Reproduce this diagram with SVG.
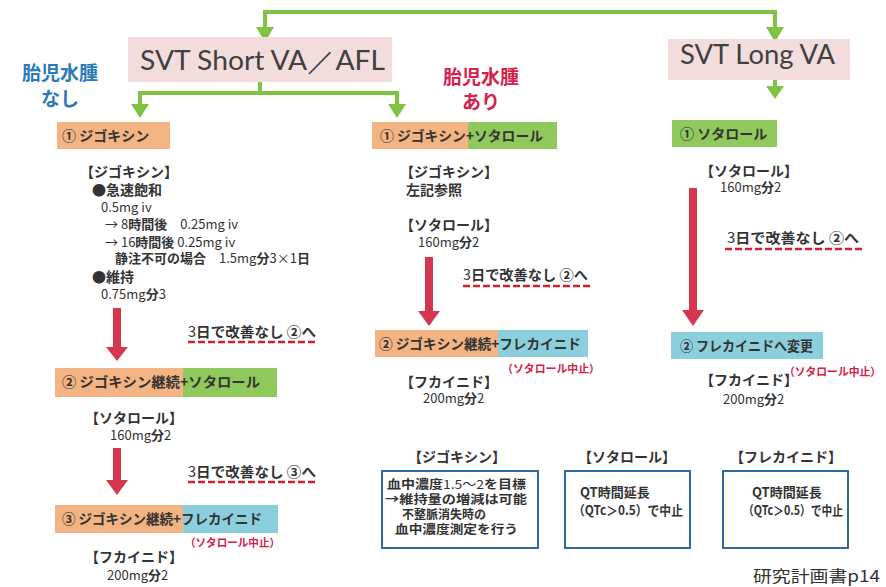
<svg xmlns="http://www.w3.org/2000/svg" width="886" height="587" viewBox="0 0 886 587">
<style>
text{font-family:"Noto Sans CJK JP","Noto Sans",sans-serif;fill:#333;font-weight:700;font-size:13px}
.n{font-weight:400}
.hd{font-family:Lato,"Open Sans",sans-serif;font-weight:400;font-size:26px;fill:#404040}
.lab{font-size:14px}
.ng{font-size:14px}
.nt{font-size:12px}
.blue{fill:#2a79b8;font-size:19px}
.red{fill:#d4204a;font-size:19px}
.stop{fill:#d4204a;font-size:11px}
.pink{fill:#f3dcdc}
.or{fill:#f4b383}
.gr{fill:#8fc95c}
.bl{fill:#8ccfdc}
.box{fill:#fff;stroke:#2d6b9c;stroke-width:2}
.ga{fill:none;stroke:#80c244;stroke-width:4}
.gh{fill:#80c244}
.ra{fill:#d6364f}
.dash{stroke:#d0202f;stroke-width:2.5;stroke-dasharray:7 3;fill:none}
</style>

<g id="connectors">
  <path class="ga" d="M265,28 V12 H775 V28"/>
  <polygon class="gh" points="256,27 274,27 265,42"/>
  <polygon class="gh" points="766,27 784,27 775,42"/>
  <path class="ga" d="M775,80 V87"/>
  <polygon class="gh" points="766,86 784,86 775,99"/>
  <path class="ga" d="M260,82 V93 M140,105 V93 H397 V105"/>
  <polygon class="gh" points="131,104 149,104 140,118"/>
  <polygon class="gh" points="388,104 406,104 397,118"/>
  <rect class="ra" x="113" y="308" width="8" height="40"/>
  <polygon class="ra" points="106,347 128,347 117,361"/>
  <rect class="ra" x="113" y="448" width="8" height="33"/>
  <polygon class="ra" points="106,480 128,480 117,495"/>
  <rect class="ra" x="425" y="257" width="8" height="55"/>
  <polygon class="ra" points="418,311 440,311 429,326"/>
  <rect class="ra" x="689" y="188" width="8" height="123"/>
  <polygon class="ra" points="682,310 704,310 693,326"/>
  <path class="dash" d="M188,342 H318 M188,482 H318 M463,286 H590 M725,249 H862"/>
</g>

<g id="short-va">
  <rect class="pink" x="128" y="37" width="264" height="45"/>
  <text class="hd" x="140" y="70" textLength="245" lengthAdjust="spacingAndGlyphs">SVT Short VA／AFL</text>
</g>
<g id="long-va">
  <rect class="pink" x="668" y="39" width="182" height="41"/>
  <text class="hd" x="680" y="64" textLength="155" lengthAdjust="spacingAndGlyphs">SVT Long VA</text>
</g>
<g id="hydrops-no">
  <text class="blue" x="60" y="80" text-anchor="middle">胎児水腫</text>
  <text class="blue" x="60" y="106" text-anchor="middle">なし</text>
</g>
<g id="hydrops-yes">
  <text class="red" x="481" y="84" text-anchor="middle">胎児水腫</text>
  <text class="red" x="481" y="109" text-anchor="middle">あり</text>
</g>

<g id="L1">
  <rect class="or" x="57" y="122" width="113" height="27"/>
  <text class="lab" x="62" y="141">①  ジゴキシン</text>
</g>
<g id="L1-detail">
  <text class="lab" x="80" y="177">【ジゴキシン】</text>
  <text class="lab" x="92" y="195">●急速飽和</text>
  <text class="n" x="101" y="212">0.5mg iv</text>
  <text x="105" y="229"><tspan class="n">→  8</tspan>時間後<tspan class="n">　0.25mg iv</tspan></text>
  <text x="105" y="247"><tspan class="n">→  16</tspan>時間後<tspan class="n"> 0.25mg iv</tspan></text>
  <text x="115" y="263">静注不可の場合<tspan class="n">　1.5mg</tspan>分<tspan class="n">3×1</tspan>日</text>
  <text class="lab" x="92" y="282">●維持</text>
  <text x="101" y="299"><tspan class="n">0.75mg</tspan>分<tspan class="n">3</tspan></text>
  <text class="ng" x="188" y="337" textLength="128" lengthAdjust="spacingAndGlyphs"><tspan class="n">3</tspan>日で改善なし  ②へ</text>
</g>
<g id="L2">
  <rect class="or" x="55" y="368" width="128" height="29"/>
  <rect class="gr" x="183" y="368" width="94" height="29"/>
  <text class="lab" x="62" y="387" textLength="198" lengthAdjust="spacingAndGlyphs">②  ジゴキシン継続+ソタロール</text>
</g>
<g id="L2-detail">
  <text class="lab" x="85" y="423">【ソタロール】</text>
  <text x="110" y="440"><tspan class="n">160mg</tspan>分<tspan class="n">2</tspan></text>
  <text class="ng" x="188" y="477" textLength="128" lengthAdjust="spacingAndGlyphs"><tspan class="n">3</tspan>日で改善なし  ③へ</text>
</g>
<g id="L3">
  <rect class="or" x="55" y="505" width="128" height="28"/>
  <rect class="bl" x="183" y="505" width="95" height="28"/>
  <text class="lab" x="62" y="524" textLength="200" lengthAdjust="spacingAndGlyphs">③  ジゴキシン継続+フレカイニド</text>
  <text class="stop" x="185" y="547" textLength="95" lengthAdjust="spacingAndGlyphs">（ソタロール中止）</text>
</g>
<g id="L3-detail">
  <text class="lab" x="85" y="562">【フカイニド】</text>
  <text x="107" y="580"><tspan class="n">200mg</tspan>分<tspan class="n">2</tspan></text>
</g>

<g id="M1">
  <rect class="or" x="372" y="122" width="96" height="27"/>
  <rect class="gr" x="468" y="122" width="89" height="27"/>
  <text class="lab" x="380" y="141" textLength="163" lengthAdjust="spacingAndGlyphs">①  ジゴキシン+ソタロール</text>
</g>
<g id="M1-detail">
  <text class="lab" x="400" y="177">【ジゴキシン】</text>
  <text class="lab" x="406" y="195">左記参照</text>
  <text class="lab" x="400" y="230">【ソタロール】</text>
  <text x="418" y="247"><tspan class="n">160mg</tspan>分<tspan class="n">2</tspan></text>
  <text class="ng" x="463" y="280" textLength="125" lengthAdjust="spacingAndGlyphs"><tspan class="n">3</tspan>日で改善なし  ②へ</text>
</g>
<g id="M2">
  <rect class="or" x="375" y="330" width="123" height="27"/>
  <rect class="bl" x="498" y="330" width="90" height="27"/>
  <text class="lab" x="379" y="349" textLength="202" lengthAdjust="spacingAndGlyphs">②  ジゴキシン継続+フレカイニド</text>
  <text class="stop" x="502" y="373" textLength="98" lengthAdjust="spacingAndGlyphs">（ソタロール中止）</text>
</g>
<g id="M2-detail">
  <text class="lab" x="400" y="387">【フカイニド】</text>
  <text x="423" y="403"><tspan class="n">200mg</tspan>分<tspan class="n">2</tspan></text>
</g>

<g id="R1">
  <rect class="gr" x="672" y="120" width="105" height="27"/>
  <text class="lab" x="680" y="139">①  ソタロール</text>
</g>
<g id="R1-detail">
  <text class="lab" x="700" y="176">【ソタロール】</text>
  <text x="720" y="192"><tspan class="n">160mg</tspan>分<tspan class="n">2</tspan></text>
  <text class="ng" x="727" y="243" textLength="132" lengthAdjust="spacingAndGlyphs"><tspan class="n">3</tspan>日で改善なし  ②へ</text>
</g>
<g id="R2">
  <rect class="bl" x="671" y="332" width="152" height="27"/>
  <text class="lab" x="680" y="351" textLength="133" lengthAdjust="spacingAndGlyphs">②  フレカイニドへ変更</text>
  <text class="stop" x="784" y="376" textLength="97" lengthAdjust="spacingAndGlyphs">（ソタロール中止）</text>
</g>
<g id="R2-detail">
  <text class="lab" x="700" y="385">【フカイニド】</text>
  <text x="723" y="404"><tspan class="n">200mg</tspan>分<tspan class="n">2</tspan></text>
</g>

<g id="note-digoxin">
  <text class="lab" x="457" y="462" text-anchor="middle">【ジゴキシン】</text>
  <rect class="box" x="382" y="471" width="156" height="77"/>
  <text class="nt" x="387" y="489" textLength="139" lengthAdjust="spacingAndGlyphs">血中濃度<tspan class="n">1.5～2</tspan>を目標</text>
  <text class="nt" x="385" y="504" textLength="142" lengthAdjust="spacingAndGlyphs">→維持量の増減は可能</text>
  <text class="nt" x="402" y="519" textLength="84" lengthAdjust="spacingAndGlyphs">不整脈消失時の</text>
  <text class="nt" x="395" y="534" textLength="123" lengthAdjust="spacingAndGlyphs">血中濃度測定を行う</text>
</g>
<g id="note-sotalol">
  <text class="lab" x="627" y="462" text-anchor="middle">【ソタロール】</text>
  <rect class="box" x="565" y="471" width="125" height="77"/>
  <text x="580" y="497">QT時間延長</text>
  <text x="573" y="515" textLength="110" lengthAdjust="spacingAndGlyphs">（QTc＞0.5）で中止</text>
</g>
<g id="note-flecainide">
  <text class="lab" x="786" y="462" text-anchor="middle">【フレカイニド】</text>
  <rect class="box" x="723" y="471" width="125" height="77"/>
  <text x="752" y="497">QT時間延長</text>
  <text x="743" y="515" textLength="100" lengthAdjust="spacingAndGlyphs">（QTc＞0.5）で中止</text>
</g>
<g id="source">
  <text class="n" x="753" y="582" style="font-size:16px;font-weight:400" textLength="127" lengthAdjust="spacingAndGlyphs">研究計画書p14</text>
</g>
</svg>
